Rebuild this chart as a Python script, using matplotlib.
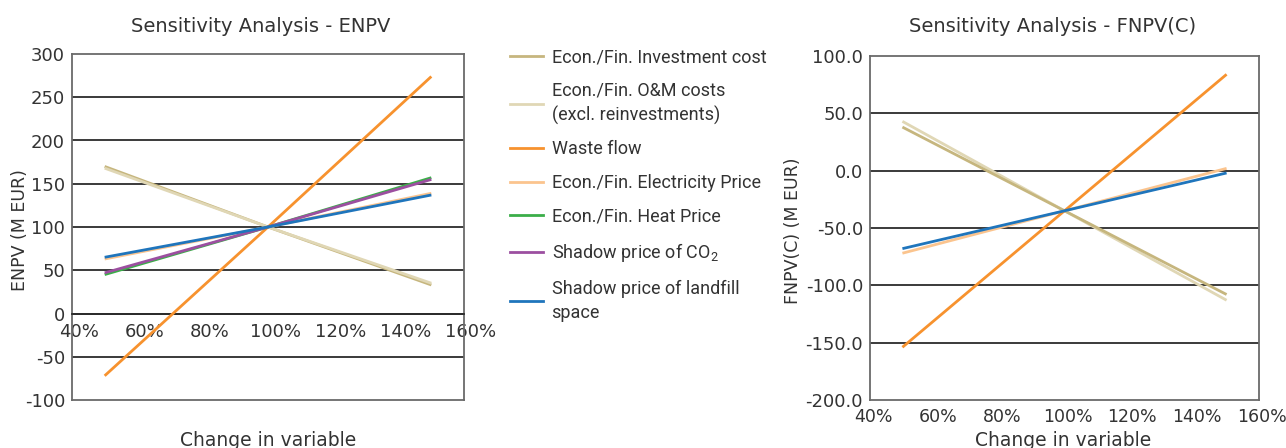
import matplotlib
matplotlib.use("Agg")
import matplotlib.pyplot as plt
import matplotlib.transforms as mtransforms
from matplotlib.lines import Line2D

FONT = "Roboto"
plt.rcParams['font.family'] = [FONT, 'DejaVu Sans']
plt.rcParams['mathtext.fontset'] = 'custom'
plt.rcParams['mathtext.rm'] = FONT
plt.rcParams['mathtext.it'] = FONT

# ---------------- data ----------------
change = [0.5, 1.0, 1.5]
x_ticks = [0.4, 0.6, 0.8, 1.0, 1.2, 1.4, 1.6]
x_ticklabels = ["40%", "60%", "80%", "100%", "120%", "140%", "160%"]

series_names = ["Econ./Fin. Investment cost",
                "Econ./Fin. O&M costs\n(excl. reinvestments)",
                "Waste flow",
                "Econ./Fin. Electricity Price",
                "Econ./Fin. Heat Price",
                "Shadow price of CO$_2$",
                "Shadow price of landfill\nspace"]

enpv_invest = [170, 100, 33]
enpv_om = [168, 100, 35]
enpv_waste = [-72, 100, 274]
enpv_elec = [63, 100, 139]
enpv_heat = [45, 100, 157]
enpv_co2 = [47, 100, 155]
enpv_landfill = [65, 100, 137]

fnpv_invest = [38, -35, -108]
fnpv_om = [43, -35, -113]
fnpv_waste = [-154, -35, 84]
fnpv_elec = [-72, -35, 2]
fnpv_landfill = [-68, -35, -2]

enpv_ticks = [-100, -50, 0, 50, 100, 150, 200, 250, 300]
fnpv_ticks = [-200, -150, -100, -50, 0, 50, 100]

colors = ["#C6B67E", "#E0D7B5", "#F7922E", "#FBC48E", "#3BAE49", "#9C4FA0", "#1F75BC"]

GRID = "#2b2b2b"
FRAME = "#6a6a6a"
TXT = "#333333"
SIDE_FONT = "DejaVu Sans"

fig = plt.figure(figsize=(12.86, 4.48), dpi=100)
W, H = 1286, 448

def ax_rect(x0, y0, x1, y1):
    return [x0 / W, 1 - y1 / H, (x1 - x0) / W, (y1 - y0) / H]

ax1 = fig.add_axes(ax_rect(72, 54, 464, 400))
ax2 = fig.add_axes(ax_rect(870, 56, 1259, 400))

lw = 2.0
enpv_all = [enpv_invest, enpv_om, enpv_waste, enpv_elec, enpv_heat, enpv_co2, enpv_landfill]
for vals, c in zip(enpv_all, colors):
    ax1.plot(change, vals, color=c, lw=lw, solid_capstyle='butt', zorder=3)

fnpv_all = [(fnpv_invest, colors[0]), (fnpv_om, colors[1]), (fnpv_waste, colors[2]),
            (fnpv_elec, colors[3]), (fnpv_landfill, colors[6])]
for i in [1, 0, 3, 2, 4]:
    vals, c = fnpv_all[i]
    ax2.plot(change, vals, color=c, lw=lw, solid_capstyle='butt', zorder=3)

for ax, ticks in ((ax1, enpv_ticks), (ax2, fnpv_ticks)):
    ax.set_xlim(0.4, 1.6)
    ax.set_ylim(ticks[0], ticks[-1])
    ax.set_yticks(ticks)
    ax.set_xticks(x_ticks)
    ax.set_xticklabels(x_ticklabels)
    for t in ticks[1:-1]:
        ax.axhline(t, color=GRID, lw=1.3, zorder=1)
    for s in ax.spines.values():
        s.set_color(FRAME)
        s.set_linewidth(1.3)

ax1.set_yticklabels([str(t) for t in enpv_ticks])
ax2.set_yticklabels([f"{t:.1f}" for t in fnpv_ticks])

# left chart: x labels sit on the zero line
ax1.spines['bottom'].set_position(('data', 0))
ax1.spines['bottom'].set_color(GRID)
ax1.axhline(-100, color=FRAME, lw=1.3, zorder=1, clip_on=False)

for ax in (ax1, ax2):
    ax.tick_params(length=0, labelsize=13, colors=TXT, labelfontfamily=SIDE_FONT)
    ax.tick_params(axis='y', pad=5)
ax1.tick_params(axis='x', pad=7)
ax2.tick_params(axis='x', pad=6, labelsize=12.5)

for ax, dx in ((ax1, 7), (ax2, 3)):
    off = mtransforms.ScaledTranslation(dx / 100, 0, fig.dpi_scale_trans)
    for lab in ax.get_xticklabels():
        lab.set_transform(lab.get_transform() + off)

# titles
fig.text(261 / W, 1 - 27 / H, "Sensitivity Analysis - ENPV", ha='center', va='center',
         fontsize=14, color=TXT, family=SIDE_FONT)
fig.text(1053 / W, 1 - 27 / H, "Sensitivity Analysis - FNPV(C)", ha='center', va='center',
         fontsize=14, color=TXT, family=SIDE_FONT)

# axis labels
fig.text(20 / W, 1 - 230 / H, "ENPV (M EUR)", rotation=90, ha='center', va='center',
         fontsize=12.5, color=TXT, family=SIDE_FONT)
fig.text(793 / W, 1 - 231 / H, "FNPV(C) (M EUR)", rotation=90, ha='center', va='center',
         fontsize=12.5, color=TXT, family=SIDE_FONT)
fig.text(268 / W, 1 - 431 / H, "Change in variable", ha='center', va='top',
         fontsize=13.5, color=TXT, family=SIDE_FONT)
fig.text(1063 / W, 1 - 431 / H, "Change in variable", ha='center', va='top',
         fontsize=13.5, color=TXT, family=SIDE_FONT)

# legend
handles = [Line2D([0], [0], color=c, lw=2) for c in colors]
leg = fig.legend(handles, series_names, loc='upper left',
                 bbox_to_anchor=(510 / W, 1 - 48 / H), frameon=False,
                 fontsize=13, handlelength=1.85, handletextpad=0.45,
                 labelspacing=0.86, borderaxespad=0, borderpad=0)
for t in leg.get_texts():
    t.set_color(TXT)
    t.set_linespacing(1.42)

fig.savefig("out.png", dpi=100)
